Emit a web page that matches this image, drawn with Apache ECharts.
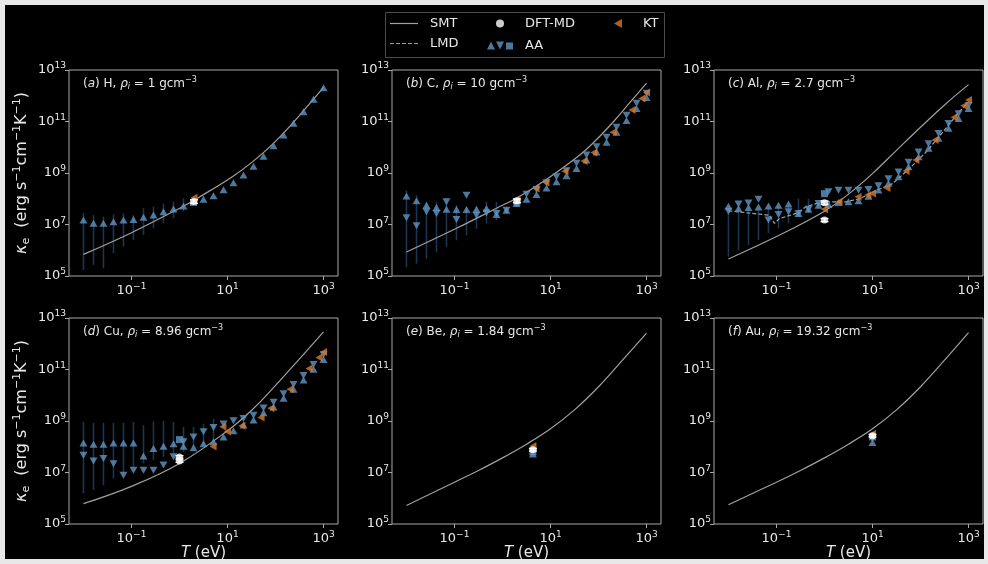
<!DOCTYPE html>
<html>
<head>
<meta charset="utf-8">
<title>Electron thermal conductivity</title>
<script src="https://cdn.jsdelivr.net/npm/echarts@6/dist/echarts.min.js"></script>
<style>
  html, body { margin: 0; padding: 0; background: #e8e8e8; }
  #chart { width: 988px; height: 564px; }
</style>
</head>
<body>
<div id="chart"></div>
<script>
// temperature grid of the AA points (eV)
const tGrid = [0.01, 0.0162, 0.0261, 0.0422, 0.0681, 0.110, 0.178, 0.287, 0.464, 0.750, 1.21, 1.96, 3.16,
  5.11, 8.25, 13.3, 21.5, 34.8, 56.2, 90.9, 147, 237, 383, 619, 1000];

const xTicks = [0.1, 10, 1000];
const yTicks = [1e5, 1e7, 1e9, 1e11, 1e13];

// (a) H
const smtTA = [0.01, 0.1, 1.15, 2.57, 12.6, 33.1, 87.1, 224, 589, 1000];
const smtKA = [6.9e5, 4.8e6, 4.9e7, 1.15e8, 7.2e8, 2.7e9, 1.32e10, 8.3e10, 6.6e11, 2.1e12];
const aaUpKA = [1.48e7, 1.12e7, 1.12e7, 1.29e7, 1.48e7, 1.58e7, 1.91e7, 2.34e7, 3.16e7, 3.98e7, 5.25e7, 7.76e7, 9.55e7,
  1.32e8, 2.24e8, 4.17e8, 8.32e8, 1.82e9, 4.47e9, 1.15e10, 3.02e10, 8.51e10, 2.4e11, 7.24e11, 2.04e12];
const aaLoA = [1.7e5, 2.7e5, 2.0e5, 7.6e5, 1.4e6, 2.5e6, 3.9e6, 7.1e6, 1.12e7, 1.74e7, 3.2e7];
const aaHiA = [2.8e7, 2.3e7, 2.0e7, 2.5e7, 2.7e7, 2.3e7, 4.3e7, 4.9e7, 6.6e7, 7.8e7, 1.05e8];
const sqTA = [1.96], sqKA = [7.2e7];
const ktTA = [2], ktKA = [1.1e8];
const dftTA = [2], dftKA = [7.8e7], dftLoA = [6.6e7], dftHiA = [9.2e7];

// (b) C
const smtTB = [0.01, 0.11, 0.75, 1.95, 8.32, 40.7, 91.2, 204, 447, 1000];
const smtKB = [8.5e5, 7.1e6, 4.3e7, 1.05e8, 5.75e8, 5.0e9, 2.0e10, 9.8e10, 5.4e11, 3.1e12];
const aaUpKB = [1.29e8, 8.3e7, 5.6e7, 4.6e7, 3.9e7, 3.8e7, 3.8e7, 3.9e7, 4.2e7, 2.45e7, 3.6e7, 6.5e7, 9.5e7,
  1.45e8, 2.6e8, 4.6e8, 7.8e8, 1.51e9, 3.2e9, 6.6e9, 1.55e10, 3.8e10, 1.1e11, 3.2e11, 8.5e11];
const aaDownKB = [1.82e7, 8.9e6, 3.1e7, 2.7e7, 7.6e7, 1.55e7, 1.38e8, 2.3e7, 2.8e7, 2.7e7, 3.6e7, 6.5e7, 1.51e8,
  2.3e8, 4.2e8, 7.2e8, 1.23e9, 2.4e9, 5.0e9, 1.05e10, 2.45e10, 6.0e10, 1.74e11, 5.1e11, 1.26e12];
const aaLoB = [2.2e5, 3.0e5, 4.7e5, 8.5e5, 1.35e6, 2.45e6, 3.8e6, 6.9e6, 1.1e7, 1.48e7];
const aaHiB = [2.1e8, 1.38e8, 7.6e7, 7.6e7, 7.6e7, 5.6e7, 4.8e7, 4.8e7, 7.6e7, 7.6e7];
const sqTB = [2], sqKB = [7.4e7];
const ktTB = [2, 5, 8, 20, 50, 80, 200, 500, 800, 1000];
const ktKB = [9.5e7, 2.5e8, 4.3e8, 1.17e9, 2.9e9, 6.3e9, 3.8e10, 2.8e11, 7.9e11, 1.35e12];
const dftTB = [2], dftKB = [8.3e7], dftLoB = [7.0e7], dftHiB = [9.8e7];

// (c) Al
const smtTC = [0.01, 0.1, 1, 3.16, 10, 31.6, 100, 316, 1000];
const smtKC = [4.6e5, 3.4e6, 3.3e7, 1.51e8, 9.5e8, 7.6e9, 6.0e10, 4.4e11, 2.7e12];
const lmdTC = [0.01, 0.071, 0.091, 0.115, 0.257, 0.417, 0.676, 1.08, 2.82, 5.37, 12.0, 26.3, 58.9, 132, 295, 646, 1000];
const lmdKC = [3.4e7, 2.3e7, 1.1e7, 1.7e7, 2.7e7, 4.9e7, 6.5e7, 7.6e7, 7.6e7, 1.0e8, 2.1e8, 3.9e8, 1.5e9, 6.6e9, 4.0e10, 2.4e11, 5.9e11];
const aaUpKC = [5.1e7, 4.2e7, 4.6e7, 4.8e7, 5.2e7, 5.6e7, 6.2e7, 2.7e7, 3.9e7, 5.6e7, 6.0e7, 7.1e7, 7.6e7,
  8.3e7, 1.26e8, 2.2e8, 4.0e8, 7.2e8, 1.74e9, 4.3e9, 9.1e9, 2.24e10, 5.5e10, 1.32e11, 3.2e11];
const aaDownKC = [3.3e7, 6.2e7, 6.9e7, 9.5e7, 1.48e7, 2.45e7, 3.1e7, 2.7e7, 3.9e7, 6.5e7, 1.86e8, 2.14e8, 2.14e8,
  2.14e8, 2.3e8, 3.2e8, 6.0e8, 1.1e9, 2.6e9, 6.5e9, 1.38e10, 3.4e10, 8.3e10, 2.0e11, 4.2e11];
const aaLoC = [5.6e5, 1.0e6, 1.6e6, 2.5e6, 4.6e6, 7.1e6, 1.1e7, 2.0e7, 3.2e7];
const aaHiC = [4.3e7, 4.9e7, 4.9e7, 4.3e7, 4.3e7, 4.9e7, 4.9e7, 1.0e8, 1.0e8];
const sqTC = [1], sqKC = [1.58e8];
const ktTC = [1, 2, 5, 8, 10, 20, 50, 80, 200, 500, 800, 1000];
const ktKC = [3.9e7, 7.6e7, 1.2e8, 1.4e8, 1.6e8, 2.6e8, 1.2e9, 3.2e9, 1.9e10, 1.45e11, 4.1e11, 6.8e11];
const dftTC = [1, 1], dftKC = [1.5e7, 7.0e7], dftLoC = [1.3e7, 6.0e7], dftHiC = [1.7e7, 8.2e7];

// (d) Cu
const smtTD = [0.01, 0.1, 1, 10, 33.1, 100, 316, 1000];
const smtKD = [6.2e5, 2.9e6, 2.24e7, 4.2e8, 2.8e9, 2.4e10, 2.6e11, 2.9e12];
const aaUpKD = [1.41e8, 1.26e8, 1.26e8, 1.41e8, 1.41e8, 1.41e8, 4.4e7, 8.5e7, 1.05e8, 1.32e8, 1.05e8, 9.1e7, 1.32e8,
  1.55e8, 2.4e8, 4.2e8, 7.0e8, 1.1e9, 2.1e9, 3.5e9, 7.6e9, 1.7e10, 3.9e10, 1.02e11, 2.45e11];
const aaDownKD = [4.7e7, 2.8e7, 3.5e7, 2.2e7, 7.9e6, 1.23e7, 1.23e7, 1.23e7, 1.95e7, 4.1e7, 1.55e8, 2.4e8, 3.8e8,
  5.6e8, 7.6e8, 1.02e9, 1.26e9, 1.66e9, 3.2e9, 5.4e9, 1.15e10, 2.6e10, 5.9e10, 1.55e11, 3.7e11];
const aaLoD = [1.55e6, 2.1e6, 3.2e6, 5.9e6, 9.1e6, 1.66e7, 2.24e7, 3.0e7, 4.1e7, 4.7e7, 6.3e7, 8.5e7, 1.05e8, 1.41e8];
const aaHiD = [9.3e8, 8.5e8, 8.5e8, 8.5e8, 8.5e8, 9.3e8, 6.9e8, 1.0e9, 1.0e9, 9.3e8, 5.9e8, 5.9e8, 7.9e8, 1.23e9];
const sqTD = [1], sqKD = [1.9e8];
const ktTD = [5, 8, 10, 20, 50, 80, 200, 500, 800, 1000];
const ktKD = [1.02e8, 6.0e8, 3.9e8, 6.5e8, 1.38e9, 3.1e9, 1.7e10, 1.1e11, 2.9e11, 4.8e11];
const dftTD = [1, 1], dftKD = [4.0e7, 2.8e7], dftLoD = [3.6e7, 2.5e7], dftHiD = [4.5e7, 3.1e7];

// (e) Be
const smtTE = [0.01, 0.1, 0.316, 1, 3.16, 10, 31.6, 100, 316, 1000];
const smtKE = [5.2e5, 4.2e6, 1.2e7, 3.7e7, 1.26e8, 5.0e8, 2.7e9, 2.14e10, 2.3e11, 2.6e12];
const upTE = [4.3], upKE = [5.2e7];
const downTE = [4.3], downKE = [7.1e7];
const sqTE = [4.3], sqKE = [6.3e7];
const ktTE = [4.3], ktKE = [1.07e8];
const dftTE = [4.3], dftKE = [7.6e7], dftLoE = [6.8e7], dftHiE = [8.5e7];

// (f) Au
const smtTF = [0.01, 0.1, 0.316, 1, 3.16, 10, 31.6, 100, 316, 1000];
const smtKF = [5.6e5, 4.2e6, 1.2e7, 3.7e7, 1.26e8, 5.0e8, 2.7e9, 2.14e10, 2.3e11, 2.7e12];
const upTF = [10], upKF = [1.45e8];
const downTF = [10], downKF = [2.14e8];
const sqTF = [10], sqKF = [2.4e8];
const ktTF = [10], ktKF = [3.2e8];
const dftTF = [10], dftKF = [2.7e8], dftLoF = [2.4e8], dftHiF = [3.0e8];

const C_TEXT = '#e8e8e8';
const C_AXIS = '#a9a9a9';
const C_SMT = '#a0a0a0';
const C_AA = '#6095c2';
const C_KT = '#d77b2d';
const C_ERR = '#1d3550';
const C_DFT = '#ffffff';
const FONT = 'DejaVu Sans';

const TRI_DOWN = 'path://M0,0L10,0L5,9Z';
const TRI_LEFT = 'path://M9,0L9,10L0,5Z';
const ICON_SOLID = 'path://M0,0L28,0L28,1.2L0,1.2Z';
const ICON_DASH = 'path://M0,0h4v1.2h-4Z M6,0h4v1.2h-4Z M12,0h4v1.2h-4Z M18,0h4v1.2h-4Z M24,0h4v1.2h-4Z';
const ICON_AA = 'path://M0,8L4,0L8,8Z M9,0L17,0L13,8Z M19,1L26,1L26,8L19,8Z';

const pts = (xs, ys) => xs.map((x, i) => [x, ys[i]]);
const bars = (xs, lo, hi) => lo.map((l, i) => [xs[i], l, hi[i]]);

const panels = [
  { tag: 'a', el: 'H', rho: '1', left: 69, top: 70, smtT: smtTA, smtK: smtKA,
    upT: tGrid, upK: aaUpKA, errLo: aaLoA, errHi: aaHiA, sqT: sqTA, sqK: sqKA,
    ktT: ktTA, ktK: ktKA, dftT: dftTA, dftK: dftKA, dftLo: dftLoA, dftHi: dftHiA },
  { tag: 'b', el: 'C', rho: '10', left: 392, top: 70, smtT: smtTB, smtK: smtKB,
    upT: tGrid, upK: aaUpKB, downT: tGrid, downK: aaDownKB, errLo: aaLoB, errHi: aaHiB, sqT: sqTB, sqK: sqKB,
    ktT: ktTB, ktK: ktKB, dftT: dftTB, dftK: dftKB, dftLo: dftLoB, dftHi: dftHiB },
  { tag: 'c', el: 'Al', rho: '2.7', left: 714, top: 70, smtT: smtTC, smtK: smtKC, lmdT: lmdTC, lmdK: lmdKC,
    upT: tGrid, upK: aaUpKC, downT: tGrid, downK: aaDownKC, errLo: aaLoC, errHi: aaHiC, sqT: sqTC, sqK: sqKC,
    ktT: ktTC, ktK: ktKC, dftT: dftTC, dftK: dftKC, dftLo: dftLoC, dftHi: dftHiC },
  { tag: 'd', el: 'Cu', rho: '8.96', left: 69, top: 318, smtT: smtTD, smtK: smtKD,
    upT: tGrid, upK: aaUpKD, downT: tGrid, downK: aaDownKD, errLo: aaLoD, errHi: aaHiD, sqT: sqTD, sqK: sqKD,
    ktT: ktTD, ktK: ktKD, dftT: dftTD, dftK: dftKD, dftLo: dftLoD, dftHi: dftHiD },
  { tag: 'e', el: 'Be', rho: '1.84', left: 392, top: 318, smtT: smtTE, smtK: smtKE,
    upT: upTE, upK: upKE, downT: downTE, downK: downKE, sqT: sqTE, sqK: sqKE,
    ktT: ktTE, ktK: ktKE, dftT: dftTE, dftK: dftKE, dftLo: dftLoE, dftHi: dftHiE },
  { tag: 'f', el: 'Au', rho: '19.32', left: 714, top: 318, smtT: smtTF, smtK: smtKF,
    upT: upTF, upK: upKF, downT: downTF, downK: downKF, sqT: sqTF, sqK: sqKF,
    ktT: ktTF, ktK: ktKF, dftT: dftTF, dftK: dftKF, dftLo: dftLoF, dftHi: dftHiF }
];

// 10^n labels
const powLabel = (v) => {
  const e = Math.round(Math.log10(v));
  return '10{sup|' + String(e).replace('-', '\u2212') + '}';
};
const tickRich = {
  sup: { fontSize: 9, color: C_TEXT, fontFamily: FONT, padding: [0, 0, 8, 0] }
};

// vertical error bar, optional caps
const errRender = (color, width, cap) => (params, api) => {
  const x = api.value(0);
  const p1 = api.coord([x, api.value(1)]);
  const p2 = api.coord([x, api.value(2)]);
  const st = { stroke: color, lineWidth: width };
  const children = [{ type: 'line', shape: { x1: p1[0], y1: p1[1], x2: p2[0], y2: p2[1] }, style: st }];
  if (cap) {
    children.push({ type: 'line', shape: { x1: p1[0] - cap, y1: p1[1], x2: p1[0] + cap, y2: p1[1] }, style: st });
    children.push({ type: 'line', shape: { x1: p2[0] - cap, y1: p2[1], x2: p2[0] + cap, y2: p2[1] }, style: st });
  }
  return { type: 'group', children: children };
};

const grids = [], xAxes = [], yAxes = [], series = [], titles = [];

panels.forEach((p, i) => {
  grids.push({ left: p.left, top: p.top, width: 269, height: 206, show: true,
    borderColor: C_AXIS, borderWidth: 1, backgroundColor: 'transparent' });

  const bottomRow = i >= 3;
  xAxes.push({
    type: 'log', logBase: 10, gridIndex: i, min: 0.005, max: 2000,
    name: bottomRow ? '{it|T} (eV)' : '', nameLocation: 'middle', nameGap: 15,
    nameTextStyle: { color: C_TEXT, fontSize: 15, fontFamily: FONT,
      rich: { it: { fontStyle: 'italic', fontSize: 15, color: C_TEXT, fontFamily: FONT } } },
    axisLine: { show: false },
    axisTick: { show: true, length: 4, customValues: xTicks, lineStyle: { color: C_AXIS } },
    axisLabel: { customValues: xTicks, formatter: powLabel, color: C_TEXT, fontSize: 13,
      fontFamily: FONT, margin: 6, rich: tickRich },
    splitLine: { show: false }
  });
  yAxes.push({
    type: 'log', logBase: 10, gridIndex: i, min: 1e5, max: 1e13,
    name: (i % 3 === 0) ? '{it|\u03ba}{sub|e}  (erg s{sup|\u22121}cm{sup|\u22121}K{sup|\u22121})' : '',
    nameLocation: 'middle', nameGap: 37,
    nameTextStyle: { color: C_TEXT, fontSize: 16, fontFamily: FONT,
      rich: {
        it: { fontStyle: 'italic', fontSize: 16, color: C_TEXT, fontFamily: FONT },
        sub: { fontSize: 11, color: C_TEXT, fontFamily: FONT, padding: [8, 0, 0, 0] },
        sup: { fontSize: 11, color: C_TEXT, fontFamily: FONT, padding: [0, 0, 9, 0] }
      } },
    axisLine: { show: false },
    axisTick: { show: true, length: 4, customValues: yTicks, lineStyle: { color: C_AXIS } },
    axisLabel: { customValues: yTicks, formatter: powLabel, color: C_TEXT, fontSize: 13,
      fontFamily: FONT, margin: 3, rich: tickRich },
    splitLine: { show: false }
  });

  titles.push({
    text: '({it|' + p.tag + '}) ' + p.el + ', {it|\u03c1}{sub|i} = ' + p.rho + ' gcm{sup|\u22123}',
    left: p.left + 14, top: p.top + 6, padding: 0,
    textStyle: { color: C_TEXT, fontSize: 12, fontWeight: 'normal', fontFamily: FONT,
      rich: {
        it: { fontStyle: 'italic', fontSize: 12, color: C_TEXT, fontFamily: FONT },
        sub: { fontStyle: 'italic', fontSize: 8, color: C_TEXT, fontFamily: FONT, padding: [6, 0, 0, 0] },
        sup: { fontSize: 8, color: C_TEXT, fontFamily: FONT, padding: [0, 0, 7, 0] }
      } }
  });

  const ax = { xAxisIndex: i, yAxisIndex: i };

  series.push(Object.assign({ type: 'line', name: 'SMT', data: pts(p.smtT, p.smtK), symbol: 'none',
    smooth: 0.4, lineStyle: { color: C_SMT, width: 1.2 }, itemStyle: { color: C_SMT },
    z: 2, silent: true }, ax));

  if (p.lmdT) {
    series.push(Object.assign({ type: 'line', name: 'LMD', data: pts(p.lmdT, p.lmdK), symbol: 'none',
      lineStyle: { color: C_SMT, width: 1.2, type: [4, 2] }, itemStyle: { color: C_SMT }, z: 2, silent: true }, ax));
  }
  if (p.errLo) {
    series.push(Object.assign({ type: 'custom', name: 'AA error', data: bars(p.upT, p.errLo, p.errHi),
      encode: { x: 0, y: [1, 2] }, renderItem: errRender(C_ERR, 1.6, 0), z: 1, silent: true }, ax));
  }
  series.push(Object.assign({ type: 'scatter', name: 'AA', data: pts(p.upT, p.upK), symbol: 'triangle',
    symbolSize: [8, 7], itemStyle: { color: C_AA }, z: 3, silent: true }, ax));
  if (p.downT) {
    series.push(Object.assign({ type: 'scatter', name: 'AA', data: pts(p.downT, p.downK), symbol: TRI_DOWN,
      symbolSize: [8, 7], itemStyle: { color: C_AA }, z: 3, silent: true }, ax));
  }
  series.push(Object.assign({ type: 'scatter', name: 'AA', data: pts(p.sqT, p.sqK), symbol: 'rect',
    symbolSize: 7, itemStyle: { color: C_AA }, z: 3, silent: true }, ax));
  series.push(Object.assign({ type: 'scatter', name: 'KT', data: pts(p.ktT, p.ktK), symbol: TRI_LEFT,
    symbolSize: [7, 8], itemStyle: { color: C_KT }, z: 4, silent: true }, ax));
  series.push(Object.assign({ type: 'custom', name: 'DFT-MD error', data: bars(p.dftT, p.dftLo, p.dftHi),
    encode: { x: 0, y: [1, 2] }, renderItem: errRender(C_DFT, 1.4, 4), z: 5, silent: true }, ax));
  series.push(Object.assign({ type: 'scatter', name: 'DFT-MD', data: pts(p.dftT, p.dftK), symbol: 'circle',
    symbolSize: 7, itemStyle: { color: C_DFT }, z: 6, silent: true }, ax));
});

const legendText = (pad) => ({ color: C_TEXT, fontSize: 13, fontFamily: FONT, padding: [0, 0, 0, pad] });

const option = {
  backgroundColor: '#e8e8e8',
  animation: false,
  title: titles,
  graphic: [
    { type: 'rect', shape: { x: 5, y: 5, width: 979, height: 554 }, style: { fill: '#000000' }, z: -10, silent: true },
    { type: 'rect', shape: { x: 385.5, y: 12.5, width: 279, height: 45 },
      style: { fill: 'none', stroke: '#4a4a4a', lineWidth: 1 }, z: 0, silent: true }
  ],
  legend: [
    { data: [{ name: 'SMT', icon: ICON_SOLID }, { name: 'LMD', icon: ICON_DASH }],
      orient: 'vertical', left: 390, top: 17, padding: 0, itemWidth: 28, itemHeight: 10,
      itemGap: 7, textStyle: legendText(7), selectedMode: false },
    { data: [{ name: 'DFT-MD', icon: 'circle' }, { name: 'AA', icon: ICON_AA }],
      orient: 'vertical', left: 487, top: 17, padding: 0, itemWidth: 26, itemHeight: 8, itemGap: 9,
      textStyle: legendText(7), selectedMode: false },
    { data: [{ name: 'KT', icon: TRI_LEFT }], orient: 'vertical', left: 614, top: 17, padding: 0,
      itemWidth: 8, itemHeight: 9, textStyle: legendText(16), selectedMode: false }
  ],
  grid: grids,
  xAxis: xAxes,
  yAxis: yAxes,
  series: series
};

const chart = echarts.init(document.getElementById('chart'), null, { renderer: 'canvas' });
chart.setOption(option);
</script>
</body>
</html>
